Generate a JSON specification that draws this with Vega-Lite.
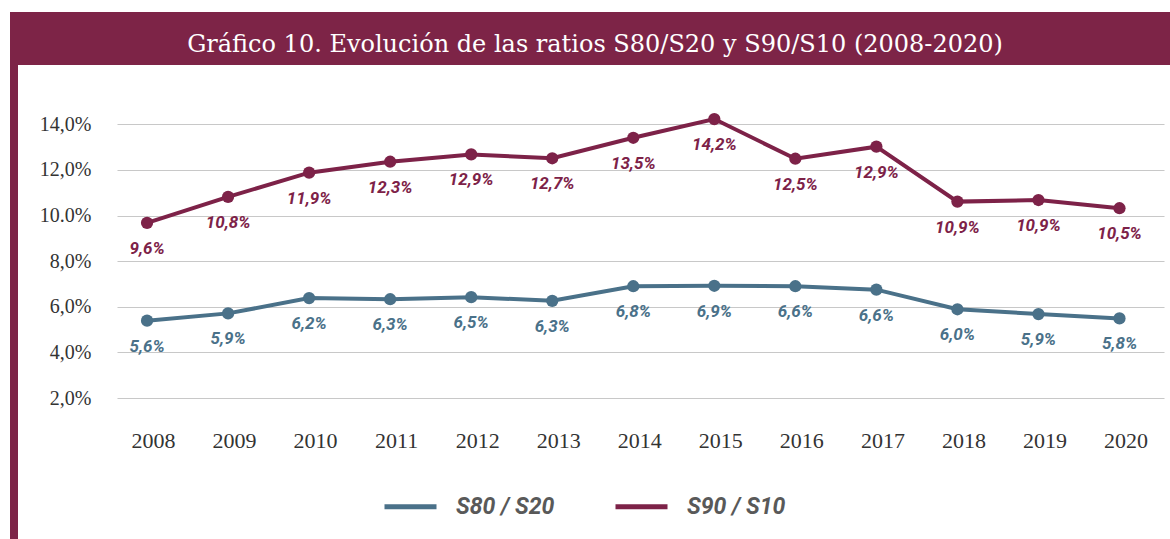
{
  "$schema": "https://vega.github.io/schema/vega-lite/v6.json",
  "padding": {"left": 10, "top": 12, "right": 0, "bottom": 0},
  "background": "white",
  "config": {"view": {"stroke": null}},
  "datasets": {
    "series": [
      {"year": "2008", "serie": "S80 / S20", "value": 5.39, "label": "5,6%"},
      {"year": "2009", "serie": "S80 / S20", "value": 5.71, "label": "5,9%"},
      {"year": "2010", "serie": "S80 / S20", "value": 6.38, "label": "6,2%"},
      {"year": "2011", "serie": "S80 / S20", "value": 6.33, "label": "6,3%"},
      {"year": "2012", "serie": "S80 / S20", "value": 6.42, "label": "6,5%"},
      {"year": "2013", "serie": "S80 / S20", "value": 6.26, "label": "6,3%"},
      {"year": "2014", "serie": "S80 / S20", "value": 6.9, "label": "6,8%"},
      {"year": "2015", "serie": "S80 / S20", "value": 6.92, "label": "6,9%"},
      {"year": "2016", "serie": "S80 / S20", "value": 6.9, "label": "6,6%"},
      {"year": "2017", "serie": "S80 / S20", "value": 6.75, "label": "6,6%"},
      {"year": "2018", "serie": "S80 / S20", "value": 5.89, "label": "6,0%"},
      {"year": "2019", "serie": "S80 / S20", "value": 5.68, "label": "5,9%"},
      {"year": "2020", "serie": "S80 / S20", "value": 5.49, "label": "5,8%"},
      {"year": "2008", "serie": "S90 / S10", "value": 9.68, "label": "9,6%"},
      {"year": "2009", "serie": "S90 / S10", "value": 10.82, "label": "10,8%"},
      {"year": "2010", "serie": "S90 / S10", "value": 11.88, "label": "11,9%"},
      {"year": "2011", "serie": "S90 / S10", "value": 12.36, "label": "12,3%"},
      {"year": "2012", "serie": "S90 / S10", "value": 12.68, "label": "12,9%"},
      {"year": "2013", "serie": "S90 / S10", "value": 12.51, "label": "12,7%"},
      {"year": "2014", "serie": "S90 / S10", "value": 13.41, "label": "13,5%"},
      {"year": "2015", "serie": "S90 / S10", "value": 14.23, "label": "14,2%"},
      {"year": "2016", "serie": "S90 / S10", "value": 12.49, "label": "12,5%"},
      {"year": "2017", "serie": "S90 / S10", "value": 13.02, "label": "12,9%"},
      {"year": "2018", "serie": "S90 / S10", "value": 10.61, "label": "10,9%"},
      {"year": "2019", "serie": "S90 / S10", "value": 10.68, "label": "10,9%"},
      {"year": "2020", "serie": "S90 / S10", "value": 10.32, "label": "10,5%"}
    ],
    "heading": [
      {"text": "Gráfico 10. Evolución de las ratios S80/S20 y S90/S10 (2008-2020)"}
    ],
    "blank": [{"text": ""}]
  },
  "vconcat": [
    {
      "width": 1160,
      "height": 53,
      "view": {"fill": "#7d2447", "stroke": null},
      "data": {"name": "heading"},
      "mark": {"type": "text", "font": "DejaVu Serif", "fontSize": 24, "color": "white", "baseline": "middle", "dy": 6, "dx": 5},
      "encoding": {"text": {"field": "text"}}
    },
    {
      "hconcat": [
        {
          "width": 8,
          "height": 474,
          "view": {"fill": "#7d2447", "stroke": null},
          "data": {"name": "blank"},
          "mark": {"type": "text"},
          "encoding": {"text": {"field": "text"}}
        },
        {
          "width": 1047,
          "height": 333,
          "data": {"name": "series"},
          "encoding": {
            "x": {
              "field": "year",
              "type": "ordinal",
              "scale": {"type": "point", "padding": 0.46, "align": 0.403},
              "axis": {
                "title": null,
                "labelAngle": 0,
                "domain": false,
                "ticks": false,
                "grid": false,
                "labelPadding": 32,
                "labelOffset": 6,
                "labelFont": "Liberation Serif",
                "labelFontSize": 22,
                "labelColor": "#333333"
              }
            },
            "y": {
              "field": "value",
              "type": "quantitative",
              "scale": {"domain": [2, 16.6], "nice": false, "zero": false},
              "axis": {
                "title": null,
                "values": [2, 4, 6, 8, 10, 12, 14],
                "domain": false,
                "ticks": false,
                "grid": true,
                "gridColor": "#c8c8c8",
                "gridWidth": 1.2,
                "labelPadding": 26,
                "minExtent": 99,
                "maxExtent": 99,
                "labelFont": "Liberation Serif",
                "labelFontSize": 20,
                "labelColor": "#333333",
                "labelExpr": "datum.value == 10 ? '10.0%' : replace(format(datum.value, '.1f'), '.', ',') + '%'"
              }
            },
            "color": {
              "field": "serie",
              "type": "nominal",
              "scale": {"domain": ["S80 / S20", "S90 / S10"], "range": ["#4a7189", "#7d2248"]},
              "legend": null
            }
          },
          "layer": [
            {
              "mark": {"type": "line", "strokeWidth": 4},
              "encoding": {
                "color": {
                  "field": "serie",
                  "type": "nominal",
                  "scale": {"domain": ["S80 / S20", "S90 / S10"], "range": ["#4a7189", "#7d2248"]},
                  "legend": {
                    "title": null,
                    "orient": "none",
                    "legendX": 372,
                    "legendY": 466,
                    "direction": "horizontal",
                    "symbolType": "stroke",
                    "symbolSize": 2704,
                    "symbolStrokeWidth": 5,
                    "labelOffset": 17,
                    "columnPadding": 50,
                    "labelFont": "Roboto",
                    "labelFontSize": 23,
                    "labelFontStyle": "italic",
                    "labelFontWeight": "bold",
                    "labelColor": "#595959"
                  }
                }
              }
            },
            {
              "mark": {"type": "point", "filled": true, "size": 150, "opacity": 1}
            },
            {
              "mark": {"type": "text", "dy": 26, "font": "Roboto", "fontSize": 17, "fontStyle": "italic", "fontWeight": "bold"},
              "encoding": {"text": {"field": "label"}}
            }
          ]
        }
      ],
      "spacing": 0
    }
  ],
  "spacing": 0
}
